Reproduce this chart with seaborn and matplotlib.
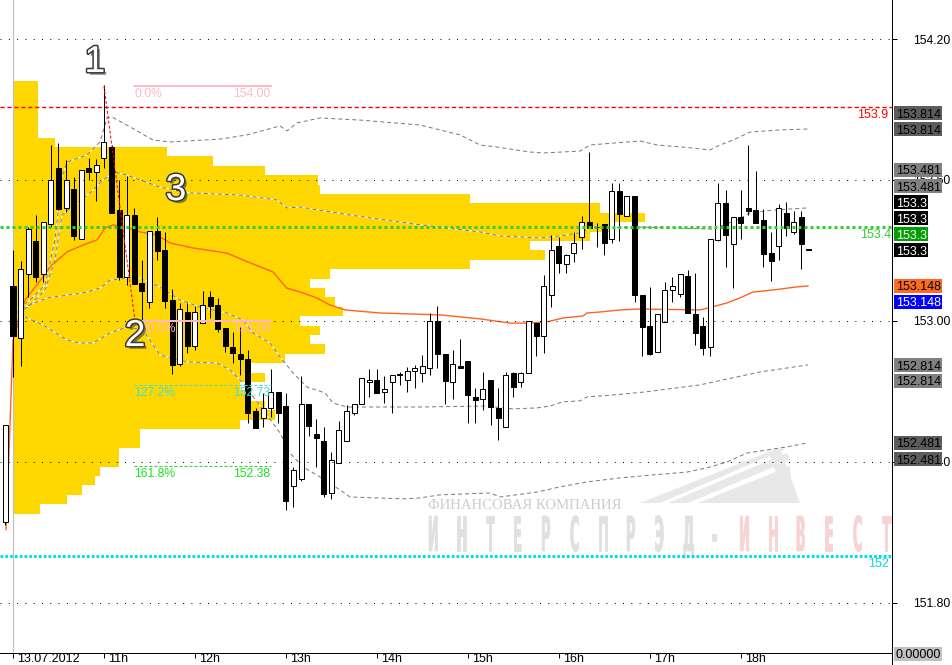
import matplotlib
matplotlib.use("Agg")
import numpy as np
import pandas as pd
import matplotlib.pyplot as plt
import seaborn as sns
import matplotlib.patheffects as pe
from matplotlib.transforms import Affine2D, IdentityTransform
from matplotlib.textpath import TextPath
from matplotlib.patches import PathPatch, Polygon, Rectangle
from matplotlib.font_manager import FontProperties
from matplotlib.lines import Line2D

# ---------------- data (5-minute bars, index -1 = last bar of previous day) ----------------
bar_index = list(range(-1, 106))
opens = [152.145,
 153.149, 152.928, 153.200, 153.340, 153.200, 153.413, 153.651, 153.481, 153.562, 153.349,
 153.651, 153.634, 153.694, 153.740, 153.472, 153.187, 153.451, 153.162, 153.081, 153.383,
 153.302, 153.089, 152.817, 153.038, 152.894, 152.991, 153.102, 153.068, 152.970, 152.889,
 152.860, 152.838, 152.617, 152.587, 152.630, 152.698, 152.638, 152.298, 152.328, 152.647,
 152.519, 152.489, 152.268, 152.396, 152.489, 152.609, 152.647, 152.740, 152.749, 152.698,
 152.740, 152.770, 152.749, 152.787, 152.779, 152.800, 153.000, 152.860, 152.740, 152.809,
 152.830, 152.677, 152.668, 152.749, 152.630, 152.549, 152.779, 152.740, 152.779, 152.991,
 152.936, 153.111, 153.319, 153.243, 153.289, 153.357, 153.421, 153.400, 153.413, 153.349,
 153.553, 153.447, 153.532, 153.111, 152.979, 152.868, 152.996, 153.132, 153.115, 153.191,
 153.030, 152.979, 152.889, 153.345, 153.502, 153.328, 153.443, 153.481, 153.472, 153.430,
 153.289, 153.319, 153.460, 153.379, 153.443, 153.302]
highs = [152.557,
 153.302, 153.255, 153.400, 153.451, 153.421, 153.749, 153.757, 153.685, 153.613, 153.643,
 153.694, 153.689, 154.004, 153.749, 153.600, 153.617, 153.481, 153.260, 153.383, 153.443,
 153.379, 153.136, 153.077, 153.077, 153.064, 153.128, 153.128, 153.098, 152.970, 152.953,
 152.974, 152.877, 152.630, 152.694, 152.796, 152.698, 152.694, 152.379, 152.766, 152.647,
 152.583, 152.549, 152.443, 152.574, 152.643, 152.647, 152.757, 152.796, 152.796, 152.766,
 152.770, 152.783, 152.804, 152.813, 152.855, 153.034, 153.064, 152.860, 152.877, 152.923,
 152.830, 152.715, 152.783, 152.749, 152.715, 152.783, 152.783, 152.783, 153.000, 152.991,
 153.196, 153.366, 153.357, 153.285, 153.379, 153.447, 153.719, 153.417, 153.413, 153.587,
 153.587, 153.532, 153.532, 153.111, 153.145, 153.030, 153.166, 153.187, 153.200, 153.217,
 153.204, 153.017, 153.349, 153.587, 153.557, 153.443, 153.557, 153.749, 153.638, 153.477,
 153.379, 153.498, 153.506, 153.468, 153.468, 153.302]
lows = [152.132,
 152.762, 152.809, 153.102, 153.166, 153.166, 153.400, 153.472, 153.464, 153.345, 153.349,
 153.600, 153.511, 153.651, 153.460, 153.174, 153.153, 153.157, 153.004, 153.055, 153.260,
 153.055, 152.774, 152.809, 152.864, 152.877, 152.991, 153.013, 152.953, 152.868, 152.821,
 152.770, 152.566, 152.545, 152.549, 152.591, 152.566, 152.196, 152.209, 152.319, 152.511,
 152.379, 152.251, 152.243, 152.396, 152.489, 152.600, 152.647, 152.677, 152.694, 152.651,
 152.609, 152.728, 152.698, 152.715, 152.740, 152.770, 152.800, 152.647, 152.668, 152.800,
 152.566, 152.566, 152.621, 152.557, 152.494, 152.549, 152.677, 152.719, 152.779, 152.851,
 152.864, 153.060, 153.204, 153.204, 153.251, 153.306, 153.396, 153.315, 153.281, 153.332,
 153.340, 153.447, 153.081, 152.851, 152.855, 152.868, 152.996, 153.081, 153.102, 153.034,
 152.898, 152.855, 152.851, 153.340, 153.230, 153.140, 153.349, 153.451, 153.417, 153.230,
 153.170, 153.260, 153.362, 153.370, 153.221, 153.302]
closes = [152.557,
 152.936, 153.221, 153.391, 153.187, 153.421, 153.600, 153.477, 153.600, 153.362, 153.643,
 153.634, 153.664, 153.762, 153.460, 153.187, 153.451, 153.157, 153.128, 153.383, 153.298,
 153.085, 152.813, 153.051, 152.894, 153.038, 153.068, 153.064, 152.966, 152.894, 152.864,
 152.838, 152.609, 152.545, 152.630, 152.698, 152.609, 152.234, 152.366, 152.647, 152.553,
 152.502, 152.264, 152.409, 152.536, 152.617, 152.647, 152.757, 152.749, 152.694, 152.711,
 152.770, 152.772, 152.787, 152.800, 152.809, 153.000, 152.860, 152.745, 152.817, 152.800,
 152.685, 152.664, 152.711, 152.634, 152.587, 152.770, 152.719, 152.779, 153.000, 152.936,
 153.149, 153.302, 153.247, 153.281, 153.332, 153.421, 153.396, 153.398, 153.332, 153.553,
 153.455, 153.532, 153.111, 152.974, 152.860, 153.030, 153.132, 153.149, 153.200, 153.034,
 152.949, 152.885, 153.349, 153.502, 153.366, 153.443, 153.417, 153.468, 153.417, 153.285,
 153.255, 153.481, 153.396, 153.421, 153.328, 153.302]

# volume profile (price level -> volume in bar-width units)
profile_levels = [154.00, 153.96, 153.92, 153.88, 153.84, 153.80, 153.76, 153.72, 153.68, 153.64,
                  153.60, 153.56, 153.52, 153.48, 153.44, 153.40, 153.36, 153.32, 153.28, 153.24,
                  153.20, 153.16, 153.12, 153.08, 153.04, 153.00, 152.96, 152.92, 152.88, 152.84,
                  152.80, 152.76, 152.72, 152.68, 152.64, 152.60, 152.56, 152.52, 152.48, 152.44,
                  152.40, 152.36, 152.32, 152.28, 152.24, 152.20]
profile_volume = [3.3, 3.3, 3.3, 3.3, 3.3, 3.3, 5.5, 20.3, 26.4, 33.2,
                  40.2, 40.5, 60.3, 77.4, 83.4, 78.8, 76.1, 68.2, 70.2, 60.3,
                  41.8, 39.2, 41.2, 42.5, 43.5, 37.9, 40.5, 39.2, 41.2, 35.9,
                  31.3, 33.2, 29.9, 30.6, 33.2, 34.6, 29.9, 16.8, 16.8, 14.0,
                  14.0, 11.5, 10.8, 9.1, 7.1, 3.6]

# moving average (orange)
ma_t = [-0.92, -0.40, 0.0, 1.58, 3.96, 4.88, 7.12, 9.23, 11.08, 12.14, 13.19, 15.04, 16.75, 19.0,
        20.7, 23.7, 28.2, 31.3, 34.3, 36.1, 37.9, 40.1, 41.8, 43.8, 48.4, 56.3, 61.6, 65.6, 67.8,
        70.4, 72.6, 75.2, 75.7, 77.4, 80.1, 82.7, 90.6, 92.3, 94.2, 95.9, 97.6, 100.3, 103.4, 104.9]
ma_p = [152.111, 152.557, 152.919, 153.089, 153.187, 153.230, 153.294, 153.323, 153.345, 153.396,
        153.409, 153.400, 153.379, 153.366, 153.332, 153.311, 153.289, 153.247, 153.209, 153.140,
        153.123, 153.098, 153.068, 153.047, 153.034, 153.026, 153.009, 152.991, 152.991, 152.996,
        153.013, 153.021, 153.034, 153.038, 153.047, 153.051, 153.047, 153.060, 153.077, 153.098,
        153.123, 153.132, 153.145, 153.149]

# envelope bands (gray dashed)
uo_t = [0.0, 2.24, 4.22, 5.54, 6.46, 7.12, 9.76, 11.48, 12.40, 13.06, 15.44, 18.47, 20.71, 27.31,
        30.87, 35.22, 36.15, 37.47, 40.50, 45.78, 53.69, 58.97, 61.61, 63.85, 68.21, 69.92, 74.80,
        76.12, 79.16, 82.72, 84.96, 88.39, 91.95, 93.27, 94.99, 97.23, 101.19, 104.88]
uo_p = [153.038, 153.089, 153.153, 153.345, 153.609, 153.677, 153.706, 153.762, 153.864, 153.868,
        153.826, 153.770, 153.762, 153.774, 153.792, 153.830, 153.809, 153.843, 153.864, 153.855,
        153.834, 153.792, 153.749, 153.740, 153.719, 153.715, 153.723, 153.749, 153.757, 153.766,
        153.749, 153.740, 153.728, 153.749, 153.770, 153.804, 153.813, 153.817]
ui_t = [0.0, 2.24, 4.22, 5.54, 6.46, 8.44, 10.16, 11.87, 13.46, 15.04, 16.75, 19.39, 23.35, 29.95,
        34.83, 36.15, 37.86, 44.46, 53.69, 61.61, 64.25, 69.53, 72.16, 74.80, 76.12, 82.72, 92.35,
        95.51, 97.23, 100.26, 104.75]
ui_p = [153.013, 153.068, 153.132, 153.260, 153.451, 153.502, 153.545, 153.600, 153.634, 153.621,
        153.600, 153.570, 153.545, 153.536, 153.515, 153.481, 153.485, 153.451, 153.409, 153.379,
        153.362, 153.353, 153.362, 153.375, 153.396, 153.400, 153.391, 153.430, 153.460, 153.472,
        153.481]
li_t = [0.0, 1.58, 4.49, 9.23, 11.48, 12.80, 16.36, 19.39, 22.03, 25.07, 28.23, 30.34, 31.66, 33.91,
        35.22, 36.94, 38.79, 41.16, 42.22, 44.06, 53.69, 62.27, 65.96, 69.13, 70.84, 72.56, 74.80,
        75.73, 79.16, 83.38, 90.63, 98.55, 104.88]
li_p = [153.004, 153.060, 153.098, 153.119, 153.140, 153.174, 153.187, 153.145, 153.089, 153.055,
        153.034, 153.004, 152.949, 152.906, 152.847, 152.779, 152.719, 152.694, 152.651, 152.634,
        152.634, 152.638, 152.626, 152.630, 152.638, 152.656, 152.660, 152.677, 152.685, 152.698,
        152.728, 152.783, 152.813]
lo_t = [0.0, 1.58, 3.96, 7.12, 8.84, 10.55, 12.80, 15.04, 17.15, 19.39, 22.96, 26.91, 28.63, 30.34,
        35.22, 36.54, 38.26, 40.50, 43.14, 44.46, 51.45, 53.69, 56.33, 62.93, 64.25, 69.13, 72.16,
        75.73, 80.08, 84.43, 88.92, 91.56, 94.20, 96.83, 99.47, 102.11, 104.75]
lo_p = [152.983, 153.017, 152.983, 152.919, 152.906, 152.906, 152.949, 152.974, 152.962, 152.855,
        152.826, 152.821, 152.792, 152.736, 152.524, 152.438, 152.379, 152.336, 152.281, 152.251,
        152.243, 152.247, 152.260, 152.268, 152.251, 152.272, 152.294, 152.315, 152.332, 152.345,
        152.357, 152.375, 152.400, 152.438, 152.451, 152.464, 152.481]

grid_prices = [151.80, 152.40, 153.00, 153.60, 154.20]
grid_labels = ["151.80", "152.40", "153.00", "153.60", "154.20"]
time_ticks = [0, 12, 24, 36, 48, 60, 72, 84, 96]
time_labels = ["13.07.2012", "11h", "12h", "13h", "14h", "15h", "16h", "17h", "18h"]

fib_pct = ["0.0%", "100.0%", "127.2%", "161.8%"]
fib_price = [154.00, 153.00, 152.728, 152.382]
fib_price_text = ["154.00", "153.00", "152.73", "152.38"]
fib_start_end = [16.0, 34.0]
zigzag_t = [12.0, 16.1]
zigzag_p = [154.00, 153.00]

level_prices = [153.911, 153.400, 152.000]
level_texts = ["153.9", "153.4", "152"]

box_texts = ["153.814", "153.814", "153.481", "153.481", "153.3", "153.3", "153.3", "153.3",
             "153.148", "153.148", "152.814", "152.814", "152.481", "152.481"]
box_prices = [153.885, 153.817, 153.643, 153.574, 153.506, 153.438, 153.370, 153.302,
              153.149, 153.081, 152.811, 152.745, 152.481, 152.411]
box_bg = ["#5c5c5c", "#5c5c5c", "#808080", "#808080", "black", "black", "#00a000", "black",
          "#ff6a22", "#0000ff", "#808080", "#808080", "#5c5c5c", "#5c5c5c"]
box_fg = ["black", "black", "black", "black", "white", "white", "white", "white",
          "black", "white", "black", "black", "black", "black"]

# ---------------- drawing ----------------
sns.set_style("white")
plt.rcParams['font.family'] = ['Liberation Sans', 'DejaVu Sans']

PX = 0.72  # points per pixel at dpi 100
W, H = 953, 665
AX_W_PX = 892.0
AX_H_PX = 653.0
fig = plt.figure(figsize=(W / 100, H / 100), dpi=100)
fig.patch.set_facecolor("white")
ax = fig.add_axes([0, 12 / H, AX_W_PX / W, AX_H_PX / H])
ax.set_facecolor("white")
YMIN, YMAX = 151.587, 154.366
PRICE_PER_PX = (YMAX - YMIN) / AX_H_PX

# watermark
def glyph(ch, x_px, base_px, color, sx=0.27, size=48):
    tp = TextPath((0, 0), ch, size=size, prop=FontProperties(family="DejaVu Sans", weight="bold"))
    ext = tp.get_extents()
    tr = Affine2D().translate(-ext.x0, 0).scale(sx, 1.0).translate(x_px, H - base_px)
    patch = PathPatch(tr.transform_path(tp), transform=IdentityTransform(), fc=color, ec=color,
                      lw=0.6, zorder=0.6, clip_on=False)
    ax.add_artist(patch)

for i, ch in enumerate("ИНТЕРСПРЭД-ИНВЕСТ"):
    glyph(ch, 429 + i * 28.3, 551, "#e0e0e0" if i < 11 else "#f8d3d3")
ax.text(428, H - 509, "ФИНАНСОВАЯ КОМПАНИЯ", transform=IdentityTransform(), fontsize=10.6,
        family=["Liberation Serif", "DejaVu Serif"], color="#cccccc", va="baseline", zorder=0.6)
for poly in ([(640, 503), (776, 449), (786, 449), (660, 503)],
             [(668, 503), (787, 453), (790, 460), (688, 503)],
             [(698, 503), (790, 466), (792, 503)],
             [(768, 452), (780, 448), (800, 503), (788, 503)]):
    ax.add_artist(Polygon([(x, H - y) for x, y in poly], closed=True, transform=IdentityTransform(),
                          fc="#e8e8e8", ec="none", zorder=0.6))

# volume profile
ax.barh(profile_levels, profile_volume, height=0.04, left=0, color="#ffd700", edgecolor="none",
        zorder=1)
ax.axvline(0, color="#c0c0c0", lw=PX * 1.2, zorder=1.2)

# envelope bands
for bt, bp in ((uo_t, uo_p), (ui_t, ui_p), (li_t, li_p), (lo_t, lo_p)):
    sns.lineplot(x=bt, y=bp, ax=ax, color="white", lw=PX, estimator=None, zorder=2)
    sns.lineplot(x=bt, y=bp, ax=ax, color="#7a7a7a", lw=PX, estimator=None,
                 linestyle=(0, (4, 3)), zorder=2.1)
sns.lineplot(x=ma_t, y=ma_p, ax=ax, color="#ff6420", lw=PX * 1.4, estimator=None, zorder=2.5)

# grid dots and levels
for gp in grid_prices:
    ax.axhline(gp, color="black", lw=PX, ls=(0, (1, 7.3)), zorder=6.5)
ax.axhline(level_prices[0], color="#ff0000", lw=1.0, ls=(0, (3, 2)), zorder=3)
ax.axhline(level_prices[1], color="#33cc33", lw=PX * 3, ls=(0, (1, 1)), zorder=6.5)
ax.axhline(level_prices[2], color="#00e0e8", lw=PX * 3, ls=(0, (0.9, 0.7)), zorder=3)

# candles
df = pd.DataFrame(dict(t=bar_index, o=opens, h=highs, l=lows, c=closes))
df["up"] = df["c"] >= df["o"]
df["lo"] = df[["o", "c"]].min(axis=1)
df["bh"] = (df["c"] - df["o"]).abs().clip(lower=0.004)
ax.vlines(df["t"], df["l"], df["h"], color="black", lw=PX, zorder=5)
u = df[df["up"]]
d = df[~df["up"]]
ax.bar(u["t"], u["bh"], bottom=u["lo"], width=0.66, color="white", edgecolor="black",
       linewidth=PX, zorder=6)
ax.bar(d["t"], d["bh"], bottom=d["lo"], width=0.66, color="black", edgecolor="black",
       linewidth=PX, zorder=6)

# fibonacci
fib_colors = ["#ffb8c6", "#ffb8c6", "#40e0d0", "#22dd22"]
fib_styles = ["-", "-", (0, (3, 2)), (0, (3, 2))]
fib_lw = [PX * 2, PX * 2, PX, PX]
for pct, fp, ft, c, s, lw in zip(fib_pct, fib_price, fib_price_text, fib_colors, fib_styles, fib_lw):
    ax.plot(fib_start_end, [fp, fp], color=c, ls=s, lw=lw, zorder=7)
    ax.annotate(pct, (fib_start_end[0], fp), xytext=(0, -1.5), textcoords="offset points",
                ha="left", va="top", fontsize=8.7, color=c, zorder=7)
    ax.annotate(ft, (fib_start_end[1], fp), xytext=(0, -1.5), textcoords="offset points",
                ha="right", va="top", fontsize=8.7, color=c, zorder=7)
ax.plot(zigzag_t, zigzag_p, color="red", lw=PX, ls=(0, (3, 2)), zorder=7)

# wave labels
wave_fx = [pe.SimplePatchShadow(offset=(2, -2), shadow_rgbFace="#303030", alpha=0.55),
           pe.Stroke(linewidth=2.2, foreground="#3a3a3a"), pe.Normal()]
for txt, tx, ty in (("1", 10.8, 154.102), ("2", 16.1, 152.936), ("3", 21.5, 153.557)):
    ax.text(tx, ty, txt, fontsize=27, color="white", ha="center", va="center",
            path_effects=wave_fx, zorder=20)

# level value texts near right edge
yax = ax.get_yaxis_transform()
ax.text(888 / AX_W_PX, 153.877, level_texts[0], transform=yax, ha="right", va="center",
        fontsize=9, color="red", zorder=8)
ax.text(891 / AX_W_PX, 153.366, level_texts[1], transform=yax, ha="right", va="center",
        fontsize=9, color="#33cc33", zorder=8)
ax.text(889 / AX_W_PX, 151.966, level_texts[2], transform=yax, ha="right", va="center",
        fontsize=9, color="#00d8e0", zorder=8)

# right value boxes (fixed pixel size rectangles)
box_h = 14 * PRICE_PER_PX
for t, p, bg, fg in zip(box_texts, box_prices, box_bg, box_fg):
    wpx = 34 if len(t) <= 5 else 48
    ax.add_artist(Rectangle((894 / AX_W_PX, p - box_h / 2), wpx / AX_W_PX, box_h, transform=yax,
                            fc=bg, ec="none", clip_on=False, zorder=10))
    ax.text(896 / AX_W_PX, p, t, transform=yax, ha="left", va="center_baseline", fontsize=9,
            color=fg, clip_on=False, zorder=11)
fig.add_artist(Rectangle((894 / W, 1 - 661 / H), 48 / W, 14 / H, transform=fig.transFigure,
                         fc="#c0c0c0", ec="none", zorder=10))
fig.text(896 / W, 1 - 654 / H, "0.00000", ha="left", va="center_baseline", fontsize=9,
         color="black", zorder=11)
fig.add_artist(Line2D([892 / W, 892 / W], [0, 12 / H], color="black", lw=PX,
                      transform=fig.transFigure))

# axes
ax.set_xlim(-1.715, 115.96)
ax.set_ylim(YMIN, YMAX)
for s in ("top", "left"):
    ax.spines[s].set_visible(False)
for s in ("right", "bottom"):
    ax.spines[s].set_visible(True)
    ax.spines[s].set_color("black")
    ax.spines[s].set_linewidth(PX)
ax.yaxis.tick_right()
ax.set_yticks(grid_prices)
ax.set_yticklabels(grid_labels)
ax.tick_params(axis="y", right=True, left=False, length=5 * PX, width=PX, pad=11.5,
               labelsize=8.7, direction="out", colors="black")
ax.set_xticks(time_ticks)
ax.set_xticklabels([""] * len(time_ticks))
ax.tick_params(axis="x", bottom=True, length=5 * PX, width=PX, direction="out", colors="black")
for t, lab in zip(time_ticks, time_labels):
    ax.annotate(lab, xy=(t, 0), xycoords=("data", "axes fraction"), xytext=(3, -0.3),
                textcoords="offset points", ha="left", va="top", fontsize=9, color="black",
                annotation_clip=False)
ax.set_xlabel("")
ax.set_ylabel("")
ax.grid(False)

fig.savefig("out.png", dpi=100)
